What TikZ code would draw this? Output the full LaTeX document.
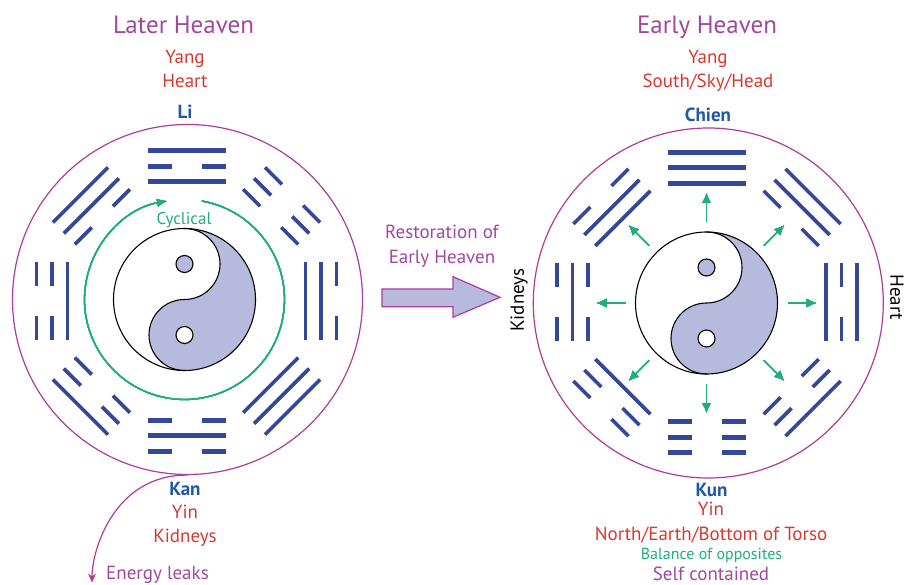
\documentclass[tikz,border=0pt]{standalone}
\usepackage{fontspec}
\setmainfont{PT Sans}
\usetikzlibrary{arrows.meta, positioning, calc}

\definecolor{ringc}{HTML}{B03A9E}
\definecolor{titlec}{HTML}{A2479F}
\definecolor{redc}{HTML}{D8382E}
\definecolor{bluec}{HTML}{1F58A6}
\definecolor{yaoc}{HTML}{34489A}
\definecolor{greenc}{HTML}{21AD7F}
\definecolor{lavc}{HTML}{B8BADD}

\tikzset{
  yao/.style={yaoc, line width=3.6pt},
  ring/.style={circle, draw=ringc, line width=1.2pt, minimum size=350pt, inner sep=0pt},
  title/.style={titlec, font=\fontsize{25}{30}\selectfont, anchor=base},
  txt/.style={redc, font=\fontsize{19}{23}\selectfont, anchor=base},
  note/.style={titlec, font=\fontsize{19}{23}\selectfont, anchor=base},
  gua/.style={bluec, font=\bfseries\fontsize{19}{23}\selectfont, anchor=base},
  side/.style={black, font=\fontsize{19}{23}\selectfont},
  sprout/.style={greenc, line width=1.3pt, -{Latex[length=10pt,width=9pt]}},
}

% trigram: center, angle, inner / middle / outer line (1 solid, 0 broken)
\newcommand{\trigram}[6][]{%
  \begin{scope}[shift={#2}, rotate=#3-90]
    \foreach \r/\s in {119/#4, 134.5/#5, 150/#6} {
      \ifnum\s=1
        \draw[yao,#1] (-39,\r) -- (39,\r);
      \else
        \draw[yao,#1] (-39,\r) -- (-15,\r) (15,\r) -- (39,\r);
      \fi
    }
  \end{scope}}

\newcommand{\taiji}[1]{%
  \begin{scope}[shift={#1}]
    \fill[lavc] (0,71) arc[start angle=90, end angle=-90, radius=71]
      arc[start angle=-90, end angle=-270, radius=35.5]
      arc[start angle=-90, end angle=90, radius=35.5] -- cycle;
    \draw[line width=1.1pt] (0,0) circle[radius=71];
    \draw[line width=1.1pt] (0,71) arc[start angle=90, end angle=-90, radius=35.5]
      arc[start angle=90, end angle=270, radius=35.5];
    \draw[line width=1.1pt, fill=lavc] (0,35.5) circle[radius=8.5];
    \draw[line width=1.1pt, fill=white] (0,-35.5) circle[radius=8.5];
  \end{scope}}

\begin{document}
\begin{tikzpicture}[x=1pt, y=1pt]
  \useasboundingbox (0,0) rectangle (904,584);

  % Later Heaven
  \coordinate (laterC) at (184.5,284.5);
  \node[ring] (laterRing) at (187.5,284.5) {};
  \taiji{(laterC)}
  \trigram[line width=5pt]{(186.5,283)}{90}{1}{0}{1}
  \trigram[line width=5pt]{(186.5,283)}{270}{0}{1}{0}
  \foreach \a/\i/\m/\o in {0/1/1/0, 45/0/0/0, 135/0/1/1, 180/1/0/0, 225/0/0/1, 315/1/1/1}
    \trigram{(186.5,283)}{\a}{\i}{\m}{\o}
  \draw[greenc, line width=1.3pt, -{Latex[length=10pt,width=8pt]}]
    ([shift={(80:100)}]laterC) arc[start angle=80, end angle=-260, radius=100];
  \node[greenc, font=\fontsize{17}{20}\selectfont, anchor=base] (cyc) at (184,359) {Cyclical};

  \node[title] (laterT) at (183.5,550.7) {Later Heaven};
  \node[txt] (laterYang) at (185,520) {Yang};
  \node[txt] (laterHeart) at (185,496.7) {Heart};
  \node[gua] (li) at (185,465.7) {Li};
  \node[gua] (kan) at (185,89) {Kan};
  \node[txt] (laterYin) at (185,65.7) {Yin};
  \node[txt] (laterKid) at (185,41.3) {Kidneys};
  \node[note] (leak) at (157.5,5) {Energy leaks};
  \coordinate (leakTip) at (92,1.5);
  \draw[ringc, line width=1.2pt, -{Stealth[length=9pt,width=8pt]}]
    (laterRing.south) .. controls (115,109.5) and (92,35) .. (leakTip);

  % restoration arrow
  \node[note] (rest1) at (442,345.7) {Restoration of};
  \node[note] (rest2) at (442,320.7) {Early Heaven};
  \draw[ringc, line width=1.2pt, fill=lavc] (382,277.3) -- (453,277.3) -- (453,266.7)
    -- (500,286.7) -- (453,307.3) -- (453,295) -- (382,295) -- cycle;

  % Early Heaven
  \coordinate (earlyC) at (706.5,281);
  \node[ring] (earlyRing) at (708.3,281) {};
  \taiji{(earlyC)}
  \trigram[line width=5pt]{(707,281.5)}{90}{1}{1}{1}
  \trigram[line width=5pt]{(707,281.5)}{270}{0}{0}{0}
  \foreach \a/\i/\m/\o in {0/1/0/1, 45/0/1/1, 135/1/1/0, 180/0/1/0, 225/1/0/0, 315/0/0/1}
    \trigram{(707,281.5)}{\a}{\i}{\m}{\o}
  \foreach \a in {0,45,...,315}
    \draw[sprout] ([shift={(\a:81)}]earlyC) -- ([shift={(\a:110)}]earlyC);

  \node[title] (earlyT) at (707,550.7) {Early Heaven};
  \node[txt] (earlyYang) at (708,520) {Yang};
  \node[txt] (south) at (708,496.7) {South/Sky/Head};
  \node[gua] (chien) at (708,462.3) {Chien};
  \node[gua] (kun) at (711.5,87.3) {Kun};
  \node[txt] (earlyYin) at (711,68.3) {Yin};
  \node[txt] (north) at (711,43.3) {North/Earth/Bottom of Torso};
  \node[greenc, font=\fontsize{16}{19}\selectfont, anchor=base] (balance) at (711.5,24.7) {Balance of opposites};
  \node[note] (self) at (711,4) {Self contained};
  \node[side, rotate=90] (kidneys) at (519,284) {Kidneys};
  \node[side, rotate=-90] (heart) at (897,287) {Heart};
\end{tikzpicture}
\end{document}
